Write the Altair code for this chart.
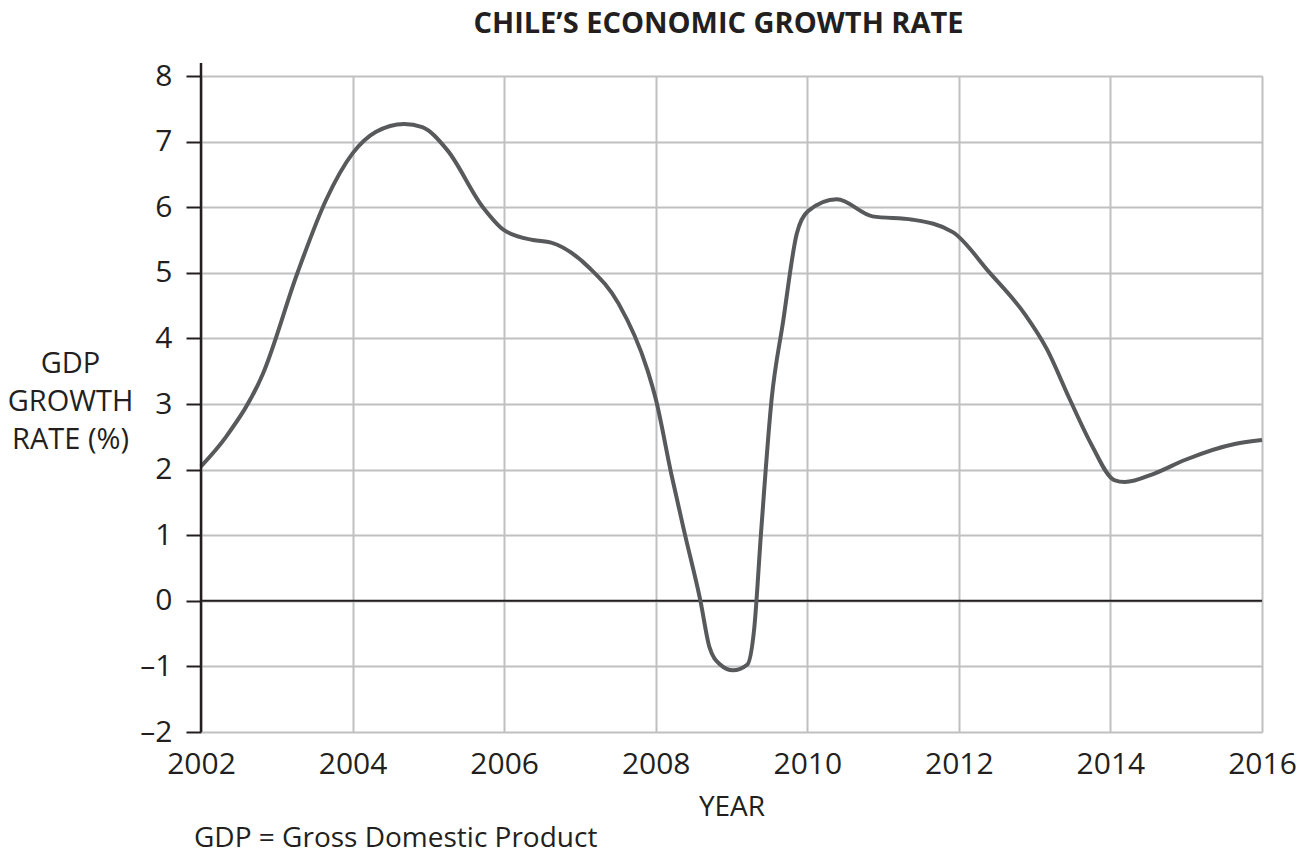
import altair as alt
import pandas as pd

# ---- data ----
years = [2002.0, 2002.33, 2002.82, 2003.27, 2003.65, 2004.0, 2004.31, 2004.68,
         2004.92, 2005.25, 2005.72, 2006.0, 2006.38, 2006.62, 2007.13, 2007.51,
         2007.89, 2008.0, 2008.21, 2008.38, 2008.59, 2008.71, 2008.85, 2009.02,
         2009.21, 2009.30, 2009.39, 2009.53, 2009.68, 2009.86, 2010.01, 2010.39,
         2010.86, 2011.39, 2011.92, 2012.40, 2012.87, 2013.16, 2013.46, 2013.75,
         2014.05, 2014.19, 2014.58, 2014.99, 2015.64, 2016.0]
growth = [2.05, 2.50, 3.47, 4.99, 6.11, 6.82, 7.15, 7.27,
          7.22, 6.87, 6.00, 5.65, 5.50, 5.46, 5.07, 4.53,
          3.52, 3.08, 1.91, 1.04, 0.00, -0.71, -0.97, -1.06,
          -0.97, -0.42, 1.04, 3.08, 4.25, 5.59, 5.94, 6.12,
          5.86, 5.81, 5.62, 5.01, 4.37, 3.84, 3.08, 2.38,
          1.84, 1.81, 1.94, 2.15, 2.39, 2.45]

x_ticks = [2002, 2004, 2006, 2008, 2010, 2012, 2014, 2016]
y_ticks = [-2, -1, 0, 1, 2, 3, 4, 5, 6, 7, 8]

title_text = "CHILE\u2019S ECONOMIC GROWTH RATE"
y_title = ["GDP", "GROWTH", "RATE (%)"]
x_title = "YEAR"
footnote = "GDP = Gross Domestic Product"

df = pd.DataFrame({"year": years, "growth": growth})
zero_df = pd.DataFrame({"growth": [0]})
one_df = pd.DataFrame({"k": [0]})

FONT = "Open Sans"
INK = "#231f20"
GRID = "#bfc0c2"
W, H = 1061, 656

x_enc = alt.X(
    "year:Q",
    scale=alt.Scale(domain=[2002, 2016], nice=False, zero=False),
    axis=alt.Axis(
        values=x_ticks, format="d", title=x_title,
        grid=True, gridColor=GRID, gridWidth=2,
        domain=False, ticks=False, tickSize=0, labelFlush=False,
        labelFont=FONT, labelFontSize=30, labelColor=INK, labelPadding=17,
        titleFont=FONT, titleFontSize=28, titleFontWeight="normal", titleColor=INK,
        titleY=61, titleBaseline="top",
    ),
)
y_enc = alt.Y(
    "growth:Q",
    scale=alt.Scale(domain=[-2, 8], nice=False, zero=False),
    axis=alt.Axis(
        values=y_ticks, title=y_title,
        grid=True, gridColor=GRID, gridWidth=2,
        domain=False, ticks=True, tickSize=15, tickWidth=2, tickColor=INK,
        labelFont=FONT, labelFontSize=30, labelColor=INK, labelPadding=14,
        labelExpr="datum.value < 0 ? '\u2013' + abs(datum.value) : '' + datum.value",
        titleFont=FONT, titleFontSize=29, titleFontWeight="normal", titleColor=INK,
        titleAngle=0, titleAlign="center", titleBaseline="top",
        titleX=-131, titleY=273, titleLineHeight=38,
    ),
)

line = alt.Chart(df).mark_line(
    color="#58595b", strokeWidth=4, interpolate="monotone"
).encode(x=x_enc, y=y_enc)

zero = alt.Chart(zero_df).mark_rule(color=INK, strokeWidth=2).encode(y="growth:Q")

yaxis_line = alt.Chart(one_df).mark_rule(color=INK, strokeWidth=2.5).encode(
    x=alt.value(0), y=alt.value(-13), y2=alt.value(H)
)

foot = alt.Chart(one_df).mark_text(
    font=FONT, fontSize=28, color=INK, align="left", baseline="alphabetic"
).encode(x=alt.value(-7), y=alt.value(771), text=alt.value(footnote))

chart = alt.layer(zero, line, yaxis_line, foot).properties(
    width=W, height=H,
    title=alt.TitleParams(
        title_text, font=FONT, fontSize=29, fontWeight="bold", color=INK,
        anchor="middle", dx=-13, offset=22,
    ),
    autosize=alt.AutoSizeParams(type="none"),
    padding={"left": 193, "top": 68, "right": 35, "bottom": 122},
).configure_view(stroke=None).configure(font=FONT)

chart.save("out.html", embed_options={"renderer": "svg", "actions": False})
